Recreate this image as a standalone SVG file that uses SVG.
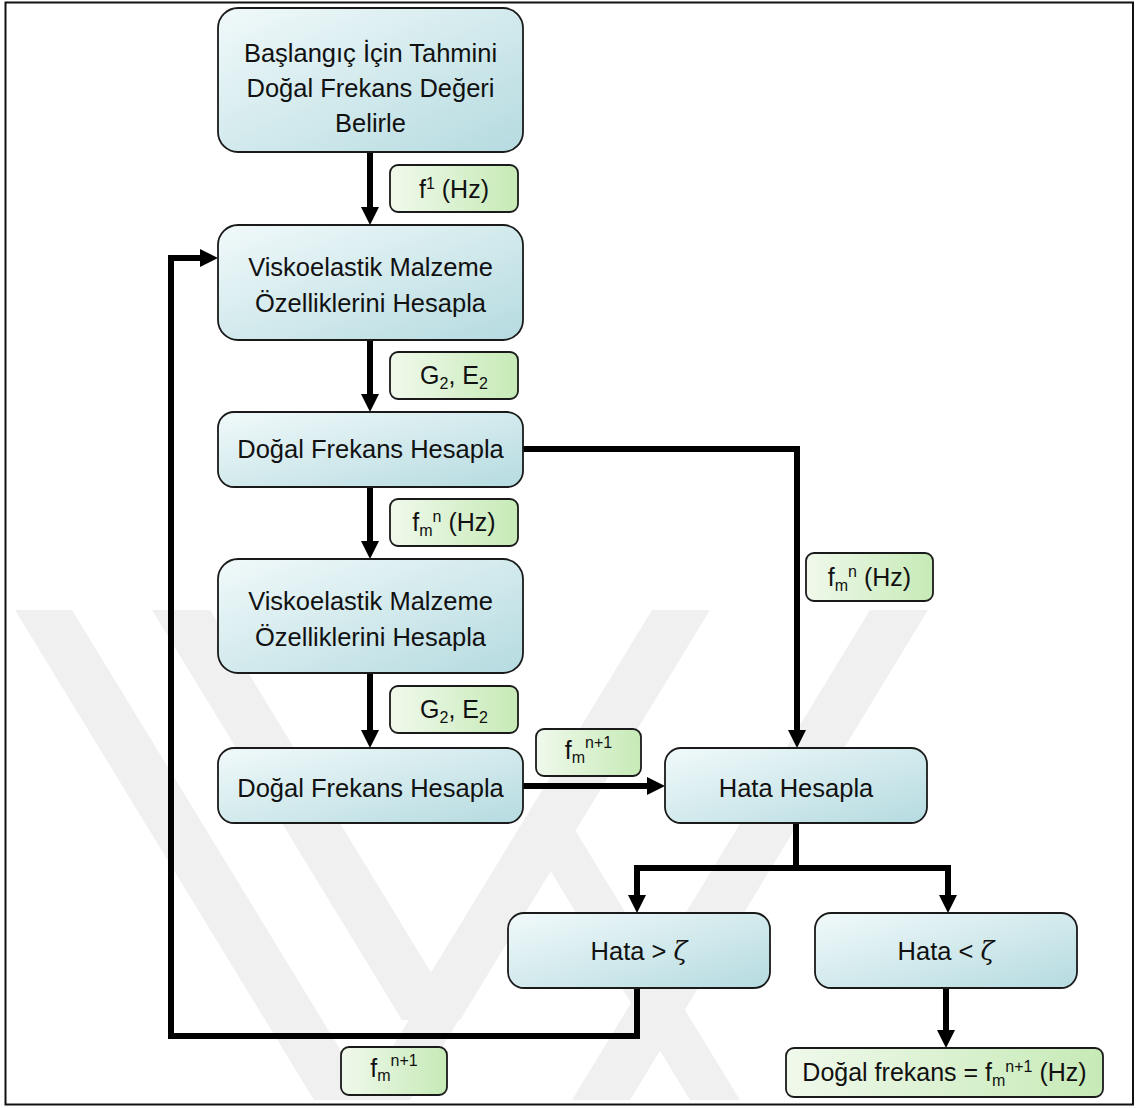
<svg xmlns="http://www.w3.org/2000/svg" width="1136" height="1108" viewBox="0 0 1136 1108">
<defs>
<linearGradient id="gBox" x1="0" y1="0" x2="1" y2="1">
<stop offset="0" stop-color="#f1f9fa"/>
<stop offset="1" stop-color="#b5dbe0"/>
</linearGradient>
<linearGradient id="gLab" x1="0" y1="0" x2="1" y2="0">
<stop offset="0" stop-color="#f0f9ec"/>
<stop offset="1" stop-color="#c6eab6"/>
</linearGradient>
<marker id="ah" markerUnits="userSpaceOnUse" markerWidth="20" markerHeight="20" viewBox="0 -10 20 20" refX="0" refY="0" orient="auto">
<path d="M0,-9 L18,0 L0,9 z" fill="#000"/>
</marker>
<style>
.box{fill:url(#gBox);stroke:#1a1a1a;stroke-width:1.8}
.lab{fill:url(#gLab);stroke:#1a1a1a;stroke-width:1.8}
.t{font-family:"Liberation Sans",Arial,sans-serif;font-size:25.5px;fill:#111;text-anchor:middle}
.tl{font-family:"Liberation Sans",Arial,sans-serif;font-size:25px;fill:#111;text-anchor:middle}
.sm{font-size:16px}
.z{font-family:"DejaVu Serif","Liberation Serif",serif;font-style:italic}
.c{fill:none;stroke:#000;stroke-width:6;stroke-linejoin:miter}
.wm{fill:#f0f0f0}
</style>
</defs>
<rect x="0" y="0" width="1136" height="1108" fill="#fff"/>
<g id="watermark">
<polygon class="wm" points="15,610 72,610 371,1100 314,1100"/>
<polygon class="wm" points="152,610 210,610 460,1020 402,1020"/>
<polygon class="wm" points="652,610 710,610 460,1020 402,1020"/>
<polygon class="wm" points="870,610 928,610 630,1100 572,1100"/>
<polygon class="wm" points="525,830 575,830 740,1100 690,1100 550,870 410,1100 360,1100"/>
</g>
<rect x="5.5" y="2.5" width="1127.5" height="1102" fill="none" stroke="#111" stroke-width="2"/>
<g id="connectors">
<path class="c" d="M370,152 V207" marker-end="url(#ah)"/>
<path class="c" d="M370,340 V394" marker-end="url(#ah)"/>
<path class="c" d="M370,487 V541" marker-end="url(#ah)"/>
<path class="c" d="M370,673 V730" marker-end="url(#ah)"/>
<path class="c" d="M523,449 H797 V730" marker-end="url(#ah)"/>
<path class="c" d="M523,786 H647" marker-end="url(#ah)"/>
<path class="c" d="M796,823 V868"/>
<path class="c" d="M634,868 H951"/>
<path class="c" d="M637,868 V895" marker-end="url(#ah)"/>
<path class="c" d="M948,868 V895" marker-end="url(#ah)"/>
<path class="c" d="M637,988 V1036 H171 V258 H200" marker-end="url(#ah)"/>
<path class="c" d="M946,988 V1030" marker-end="url(#ah)"/>
</g>
<g id="n1"><rect class="box" x="218" y="8" width="305" height="144" rx="20"/>
<text class="t" x="370.5" y="62">Başlangıç İçin Tahmini</text>
<text class="t" x="370.5" y="97">Doğal Frekans Değeri</text>
<text class="t" x="370.5" y="132">Belirle</text></g>
<g id="l1"><rect class="lab" x="390" y="165" width="128" height="47" rx="8"/>
<text class="tl" x="454" y="198">f<tspan class="sm" dy="-9">1</tspan><tspan dy="9"> (Hz)</tspan></text></g>
<g id="n2"><rect class="box" x="218" y="225" width="305" height="115" rx="20"/>
<text class="t" x="370.5" y="276">Viskoelastik Malzeme</text>
<text class="t" x="370.5" y="312">Özelliklerini Hesapla</text></g>
<g id="l2"><rect class="lab" x="390" y="352" width="128" height="47" rx="8"/>
<text class="tl" x="454" y="384">G<tspan class="sm" dy="5">2</tspan><tspan dy="-5">, E</tspan><tspan class="sm" dy="5">2</tspan></text></g>
<g id="n3"><rect class="box" x="218" y="412" width="305" height="75" rx="16"/>
<text class="t" x="370.5" y="458">Doğal Frekans Hesapla</text></g>
<g id="l3"><rect class="lab" x="390" y="499" width="128" height="47" rx="8"/>
<text class="tl" x="454" y="531">f<tspan class="sm" dy="5">m</tspan><tspan class="sm" dy="-14">n</tspan><tspan dy="9"> (Hz)</tspan></text></g>
<g id="n4"><rect class="box" x="218" y="559" width="305" height="114" rx="20"/>
<text class="t" x="370.5" y="610">Viskoelastik Malzeme</text>
<text class="t" x="370.5" y="646">Özelliklerini Hesapla</text></g>
<g id="l4"><rect class="lab" x="390" y="686" width="128" height="47" rx="8"/>
<text class="tl" x="454" y="718">G<tspan class="sm" dy="5">2</tspan><tspan dy="-5">, E</tspan><tspan class="sm" dy="5">2</tspan></text></g>
<g id="n5"><rect class="box" x="218" y="748" width="305" height="75" rx="16"/>
<text class="t" x="370.5" y="797">Doğal Frekans Hesapla</text></g>
<g id="l5"><rect class="lab" x="536" y="729" width="105" height="47" rx="8"/>
<text class="tl" x="588.5" y="759">f<tspan class="sm" dy="4">m</tspan><tspan class="sm" dy="-15">n+1</tspan></text></g>
<g id="l6"><rect class="lab" x="806" y="553" width="127" height="48" rx="8"/>
<text class="tl" x="869.5" y="586">f<tspan class="sm" dy="5">m</tspan><tspan class="sm" dy="-14">n</tspan><tspan dy="9"> (Hz)</tspan></text></g>
<g id="n6"><rect class="box" x="665" y="748" width="262" height="75" rx="16"/>
<text class="t" x="796" y="797">Hata Hesapla</text></g>
<g id="n7"><rect class="box" x="508" y="913" width="262" height="75" rx="16"/>
<text class="t" x="639" y="960">Hata &gt; <tspan class="z">ζ</tspan></text></g>
<g id="n8"><rect class="box" x="815" y="913" width="262" height="75" rx="16"/>
<text class="t" x="946" y="960">Hata &lt; <tspan class="z">ζ</tspan></text></g>
<g id="l7"><rect class="lab" x="341" y="1047" width="106" height="48" rx="8"/>
<text class="tl" x="394" y="1077">f<tspan class="sm" dy="4">m</tspan><tspan class="sm" dy="-15">n+1</tspan></text></g>
<g id="l8"><rect class="lab" x="786" y="1048" width="317" height="49" rx="8"/>
<text class="tl" x="944.5" y="1081">Doğal frekans = f<tspan class="sm" dy="5">m</tspan><tspan class="sm" dy="-14">n+1</tspan><tspan dy="9"> (Hz)</tspan></text></g>
</svg>
